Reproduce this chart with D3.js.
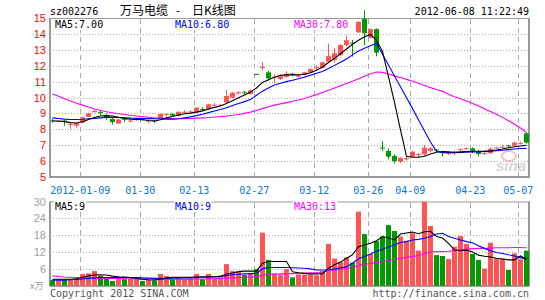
<!DOCTYPE html>
<html>
<head>
<meta charset="utf-8">
<script src="https://cdn.jsdelivr.net/npm/d3@7"></script>
<style>
  body { margin: 0; background: #fff; }
  svg { display: block; }
  .mono { font-family: "DejaVu Sans Mono", "Liberation Mono", monospace; font-size: 10px; }
</style>
</head>
<body>
<div id="chart"></div>
<script>
// tick labels on the date axis (index of the trading day they sit on)
const tickIdx = [5, 15, 24, 34, 44, 53, 60, 70, 78];
const tickLabels = ['2012-01-09', '01-30', '02-13', '02-27', '03-12', '03-26', '04-09', '04-23', '05-07'];
const priceTicks = [5, 6, 7, 8, 9, 10, 11, 12, 13, 14, 15];
const volTicks = [6, 12, 18, 24, 30];

// daily K line
const open = [8.56,8.50,8.55,8.28,8.23,8.42,8.78,9.10,9.08,8.90, 8.65,8.36,8.66,8.50,8.60,8.65,8.52,8.56,8.65,8.92,
  8.97,8.85,9.07,9.08,9.07,9.28,9.26,9.50,9.50,9.70, 9.99,10.28,10.33,10.22,11.48,11.88,11.58,11.28,11.17,11.30,
  11.50,11.33,11.42,11.58,11.88,11.87,12.25,12.36,12.67,13.30, 13.45,14.10,14.95,13.75,14.30,6.86,6.64,6.32,5.96,6.12,
  6.28,6.41,6.43,6.65,6.72,6.58,6.47,6.53,6.72,6.78, 6.80,6.60,6.47,6.50,6.82,6.88,6.99,6.97,7.10,7.75];
const high = [8.65,8.58,8.60,8.44,8.40,8.80,9.05,9.22,9.18,9.00, 8.70,8.65,8.75,8.62,8.70,8.72,8.62,8.58,8.98,9.00,
  9.00,9.12,9.20,9.20,9.40,9.40,9.60,9.65,9.60,10.47, 10.35,10.40,10.40,10.50,11.48,12.22,11.68,11.46,11.45,11.65,
  11.55,11.45,11.62,11.82,12.05,12.25,13.40,13.10,13.35,13.90, 13.62,14.80,15.50,14.35,14.35,7.26,6.80,6.43,6.22,6.25,
  6.65,6.50,7.00,6.90,6.76,6.60,6.55,6.65,6.80,6.86, 6.86,6.70,6.55,6.85,6.90,7.00,7.02,7.22,7.22,7.80];
const low = [8.40,8.45,8.22,8.02,8.10,8.35,8.75,9.05,8.88,8.60, 8.30,8.33,8.45,8.45,8.55,8.55,8.38,8.40,8.60,8.80,
  8.80,8.80,9.00,9.05,9.03,9.15,9.20,9.45,9.45,9.65, 9.95,10.22,10.20,10.18,11.46,11.70,11.05,10.93,11.10,11.25,
  11.35,11.25,11.38,11.55,11.75,11.83,12.20,12.20,12.60,13.20, 12.57,14.05,13.30,13.70,12.60,6.64,6.10,5.86,5.86,6.05,
  6.22,6.20,6.30,6.55,6.60,6.30,6.40,6.35,6.65,6.72, 6.50,6.30,6.40,6.45,6.80,6.82,6.90,6.92,7.05,7.10];
const close = [8.52,8.52,8.50,8.33,8.38,8.75,9.00,9.15,9.04,8.72, 8.45,8.62,8.62,8.55,8.64,8.62,8.56,8.50,8.96,8.96,
  8.86,9.10,9.10,9.12,9.36,9.25,9.57,9.55,9.54,10.09, 10.30,10.32,10.30,10.45,11.46,11.92,11.20,11.32,11.40,11.50,
  11.45,11.37,11.58,11.79,11.91,12.21,12.60,12.78,13.30,13.60, 13.40,14.75,14.05,14.30,12.82,6.80,6.28,6.00,6.21,6.18,
  6.59,6.45,6.84,6.80,6.70,6.55,6.50,6.56,6.75,6.81, 6.65,6.45,6.50,6.78,6.85,6.90,6.96,7.16,7.13,7.16];

// price moving averages
const ma5 = [8.52,8.52,8.48,8.42,8.40,8.48,8.62,8.74,8.84,8.86, 8.84,8.76,8.68,8.63,8.62,8.60,8.55,8.52,8.60,8.72,
  8.80,8.90,8.98,9.02,9.08,9.16,9.28,9.38,9.46,9.62, 9.80,9.98,10.16,10.34,10.60,10.95,11.12,11.28,11.40,11.42,
  11.44,11.42,11.46,11.56,11.72,11.92,12.20,12.46,12.75,13.05, 13.35,13.60,13.82,13.97,13.60,12.90,11.30,9.70,7.96,6.30,
  6.24,6.24,6.30,6.45,6.56,6.60,6.58,6.56,6.58,6.60, 6.62,6.62,6.63,6.65,6.70,6.76,6.84,6.90,6.95,7.00];
const ma10 = [8.72,8.68,8.64,8.62,8.62,8.63,8.66,8.69,8.72,8.74, 8.75,8.74,8.72,8.70,8.69,8.68,8.67,8.66,8.65,8.64,
  8.63,8.66,8.72,8.78,8.86,8.95,9.05,9.15,9.25,9.36, 9.50,9.62,9.74,9.88,10.14,10.40,10.60,10.78,10.90,11.00,
  11.08,11.18,11.28,11.40,11.52,11.64,11.82,12.02,12.22,12.42, 12.68,12.92,13.10,13.25,13.40,12.72,12.04,11.35,10.67,9.99,
  9.30,8.60,7.90,7.20,6.62,6.53,6.53,6.53,6.54,6.56, 6.57,6.58,6.60,6.62,6.65,6.68,6.72,6.76,6.79,6.80];
const ma30 = [10.22,10.08,9.92,9.78,9.64,9.52,9.40,9.28,9.18,9.10, 9.04,8.98,8.93,8.88,8.84,8.80,8.76,8.72,8.70,8.68,
  8.67,8.67,8.67,8.68,8.70,8.72,8.74,8.77,8.80,8.84, 8.88,8.93,9.00,9.08,9.18,9.30,9.42,9.52,9.60,9.68,
  9.76,9.84,9.94,10.06,10.18,10.32,10.46,10.60,10.74,10.88, 11.02,11.18,11.34,11.50,11.60,11.58,11.48,11.36,11.26,11.14,
  11.02,10.90,10.76,10.62,10.50,10.40,10.20,10.05,9.92,9.78, 9.62,9.46,9.30,9.12,8.95,8.75,8.54,8.32,8.08,7.80];

// volume (x万) and its moving averages
const vol = [2.0,1.9,2.0,2.0,2.6,4.2,4.4,5.2,3.5,3.0, 1.7,3.0,2.3,2.6,2.6,1.7,2.0,1.7,4.2,3.5,
  2.3,2.6,2.3,2.6,4.2,2.3,4.2,2.6,3.0,7.7, 5.2,5.0,3.8,4.2,5.9,18.9,9.2,4.4,4.0,5.9,
  3.0,4.0,4.0,4.0,3.7,5.2,14.9,9.7,8.5,10.1, 8.2,26.4,18.4,11.3,15.9,17.5,21.6,19.5,17.5,16.0,
  18.7,12.5,29.9,21.3,10.9,10.6,9.5,13.9,17.7,14.9, 11.3,9.2,6.1,15.3,9.7,9.7,5.6,11.5,9.4,12.5];
const vma5 = [2.3,2.3,2.3,2.3,2.5,3.0,3.5,3.8,3.9,3.8, 3.4,3.2,3.1,2.9,2.6,2.3,2.1,2.0,2.3,2.7,
  3.0,3.0,3.0,3.0,3.1,3.2,3.2,3.2,3.4,4.2, 4.5,5.0,5.2,5.2,5.2,8.0,8.6,8.6,8.6,8.6,
  5.0,4.6,4.4,4.2,4.2,4.3,6.2,7.5,8.4,9.8, 11.0,13.9,14.5,15.1,16.0,17.5,17.0,16.3,18.4,18.8,
  19.1,18.5,19.2,19.4,17.5,17.0,15.1,12.7,12.5,12.7, 12.0,10.9,10.5,10.2,9.8,9.5,9.2,9.2,10.6,9.4];
const vma10 = [2.0,2.0,2.0,2.1,2.2,2.4,2.6,2.8,2.9,2.9, 2.9,2.9,2.9,2.9,2.9,2.8,2.7,2.6,2.6,2.6,
  2.7,2.7,2.8,2.8,2.9,3.0,3.1,3.1,3.2,3.6, 3.9,4.1,4.2,4.3,4.4,6.0,6.5,6.5,6.5,6.5,
  6.4,6.3,6.2,6.0,5.6,5.6,5.7,6.0,6.4,6.8, 8.0,9.6,10.4,11.3,12.3,13.0,13.8,14.6,15.4,15.7,
  16.3,16.5,16.9,17.5,18.4,18.7,17.5,16.9,16.3,15.7, 15.3,14.2,13.3,12.5,11.8,11.5,11.0,10.6,10.0,9.4];
const vma30 = [3.5,3.3,3.1,3.0,2.9,2.8,2.8,2.7,2.7,2.6, 2.6,2.6,2.5,2.5,2.4,2.4,2.4,2.3,2.3,2.3,
  2.3,2.3,2.3,2.3,2.4,2.4,2.5,2.5,2.6,2.7, 2.8,2.9,3.0,3.1,3.2,3.7,4.0,4.1,4.2,4.3,
  4.3,4.4,4.5,4.6,4.7,4.9,5.3,5.6,5.9,6.2, 6.5,7.2,7.6,7.9,8.2,8.6,9.0,9.4,9.8,10.1,
  10.4,10.7,11.4,12.0,12.1,12.2,12.3,12.5,12.8,13.0, 13.2,13.3,13.3,13.4,13.5,13.5,13.5,13.6,13.6,13.5];

const RED = '#ff5454', GREEN = '#009a00', GRID = '#aaaaaa', BORDER = '#999999';
const left = 50, right = 529;

const svg = d3.select('#chart').append('svg')
  .attr('width', 545)
  .attr('height', 300);

const x = d3.scaleBand()
  .domain(d3.range(open.length))
  .range([49.3, 529.3]);
const cx = i => Math.round(x(i) + 0.5) + 2.5;

const y = d3.scaleLinear().domain([5, 15]).range([177, 18]);
const yv = d3.scaleLinear().domain([0, 30]).range([285.7, 201.5]);

// ---- grids
function hGrid(vals, scale) {
  svg.append('g').selectAll('line')
    .data(vals)
    .enter().append('line')
    .attr('x1', left).attr('x2', right)
    .attr('y1', d => Math.round(scale(d)) + 0.5)
    .attr('y2', d => Math.round(scale(d)) + 0.5)
    .attr('stroke', GRID)
    .attr('stroke-dasharray', '1,2');
}
hGrid(priceTicks.filter(d => d > 5 && d < 15), y);
hGrid(volTicks.filter(d => d < 30), yv);

function vGrid(y1, y2) {
  svg.append('g').selectAll('line')
    .data(tickIdx)
    .enter().append('line')
    .attr('x1', d => Math.round(x(d) + 1) + 0.5)
    .attr('x2', d => Math.round(x(d) + 1) + 0.5)
    .attr('y1', y1).attr('y2', y2)
    .attr('stroke', GRID)
    .attr('stroke-dasharray', '5,4');
}
vGrid(19, 176);
vGrid(203, 285);

// ---- borders
function frame(top, bottom) {
  svg.append('rect')
    .attr('x', left + 0.5).attr('y', top + 0.5)
    .attr('width', right - left).attr('height', bottom - top)
    .attr('fill', 'none')
    .attr('stroke', BORDER);
  svg.append('path')
    .attr('d', `M${left},${top} V${bottom} H${right} V${top}`)
    .attr('fill', 'none')
    .attr('stroke', BORDER)
    .attr('stroke-width', 2);
}
frame(18, 177);
frame(201.5, 285.7);

// ---- price axis
const yAxis = svg.append('g')
  .attr('transform', 'translate(48,0)')
  .call(d3.axisLeft(y).tickValues(priceTicks).tickSize(0).tickPadding(2).tickFormat(d3.format('d')));
yAxis.select('.domain').remove();
yAxis.selectAll('text')
  .attr('fill', '#ff0000')
  .style('font-family', '"Liberation Sans", Arial, sans-serif')
  .style('font-size', '11px');

const vAxis = svg.append('g')
  .attr('transform', 'translate(48,0)')
  .call(d3.axisLeft(yv).tickValues(volTicks).tickSize(0).tickPadding(2));
vAxis.select('.domain').remove();
vAxis.selectAll('text')
  .attr('fill', '#a0a0a0')
  .style('font-family', '"Liberation Sans", Arial, sans-serif')
  .style('font-size', '11px');

// ---- date labels
svg.append('g').selectAll('text')
  .data(tickIdx)
  .enter().append('text')
  .attr('class', 'mono')
  .attr('x', d => x(d) + 1)
  .attr('y', 194)
  .attr('text-anchor', 'middle')
  .attr('fill', '#0a78d0')
  .text((d, k) => tickLabels[k]);

// ---- candles
const candles = svg.append('g');
const idx = d3.range(open.length);
const col = i => close[i] >= open[i] ? RED : GREEN;

candles.selectAll('.wick')
  .data(idx)
  .enter().append('line')
  .attr('class', 'wick')
  .attr('x1', cx).attr('x2', cx)
  .attr('y1', i => y(high[i]))
  .attr('y2', i => y(low[i]))
  .attr('stroke', col);

candles.selectAll('.body')
  .data(idx)
  .enter().append('rect')
  .attr('class', 'body')
  .attr('x', i => cx(i) - 2.5)
  .attr('width', 5)
  .attr('y', i => y(Math.max(open[i], close[i])))
  .attr('height', i => Math.max(1, Math.abs(y(open[i]) - y(close[i]))))
  .attr('fill', col);

// ---- volume bars
svg.append('g').selectAll('rect')
  .data(idx)
  .enter().append('rect')
  .attr('x', i => cx(i) - 2.5)
  .attr('width', 5)
  .attr('y', i => yv(vol[i]))
  .attr('height', i => yv(0) - yv(vol[i]))
  .attr('fill', col);

// ---- moving average lines
function maLine(data, scale, color) {
  svg.append('path')
    .datum(idx)
    .attr('fill', 'none')
    .attr('stroke', color)
    .attr('stroke-width', 1.1)
    .attr('d', d3.line().x(cx).y(i => scale(data[i])));
}
maLine(ma30, y, '#ff00ff');
maLine(ma10, y, '#0000ff');
maLine(ma5, y, '#000000');
maLine(vma30, yv, '#ff00ff');
maLine(vma10, yv, '#0000ff');
maLine(vma5, yv, '#000000');

// ---- watermark
const wm = svg.append('g').attr('opacity', 0.35);
wm.append('ellipse').attr('cx', 509).attr('cy', 156).attr('rx', 7).attr('ry', 5)
  .attr('fill', 'none').attr('stroke', '#e05050').attr('stroke-width', 2);
wm.append('text')
  .attr('x', 496).attr('y', 171)
  .style('font-family', '"Liberation Sans", sans-serif')
  .style('font-size', '15px').style('font-weight', 'bold').style('font-style', 'italic')
  .attr('fill', '#888')
  .text('sina');

// ---- texts
function label(txt, x0, y0, color, anchor, boxed) {
  const t = svg.append('text')
    .attr('class', 'mono')
    .attr('x', x0).attr('y', y0)
    .attr('fill', color)
    .attr('text-anchor', anchor || 'start')
    .text(txt);
  if (boxed) {
    const b = t.node().getBBox();
    svg.insert('rect', () => t.node())
      .attr('x', b.x - 1).attr('y', b.y)
      .attr('width', b.width + 2).attr('height', b.height)
      .attr('fill', '#fff');
  }
}
label('sz002276', 50, 15, '#000');
label('2012-06-08 11:22:49', 529, 15, '#000', 'end');
label('MA5:' + ma5[ma5.length - 1].toFixed(2), 55, 28, '#000', 'start', true);
label('MA10:' + ma10[ma10.length - 1].toFixed(2), 175, 28, '#0000ff', 'start', true);
label('MA30:' + ma30[ma30.length - 1].toFixed(2), 294, 28, '#ff00ff', 'start', true);
label('MA5:9', 55, 210, '#000', 'start', true);
label('MA10:9', 175, 210, '#0000ff', 'start', true);
label('MA30:13', 294, 210, '#ff00ff', 'start', true);
label('Copyright 2012 SINA.COM', 50, 297, '#555');
label('http://finance.sina.com.cn', 529, 297, '#555', 'end');

const title = svg.append('text')
  .attr('y', 15)
  .style('font-family', '"Noto Sans CJK SC", sans-serif')
  .style('font-size', '12px')
  .attr('fill', '#000');
title.append('tspan').attr('x', 120).text('万马电缆');
title.append('tspan').attr('x', 176).text('-');
title.append('tspan').attr('x', 192).text('日K线图');

svg.append('text')
  .attr('x', 30).attr('y', 289)
  .style('font-family', '"Noto Sans CJK SC", sans-serif')
  .style('font-size', '9px')
  .attr('fill', '#999')
  .text('x万');
</script>
</body>
</html>
